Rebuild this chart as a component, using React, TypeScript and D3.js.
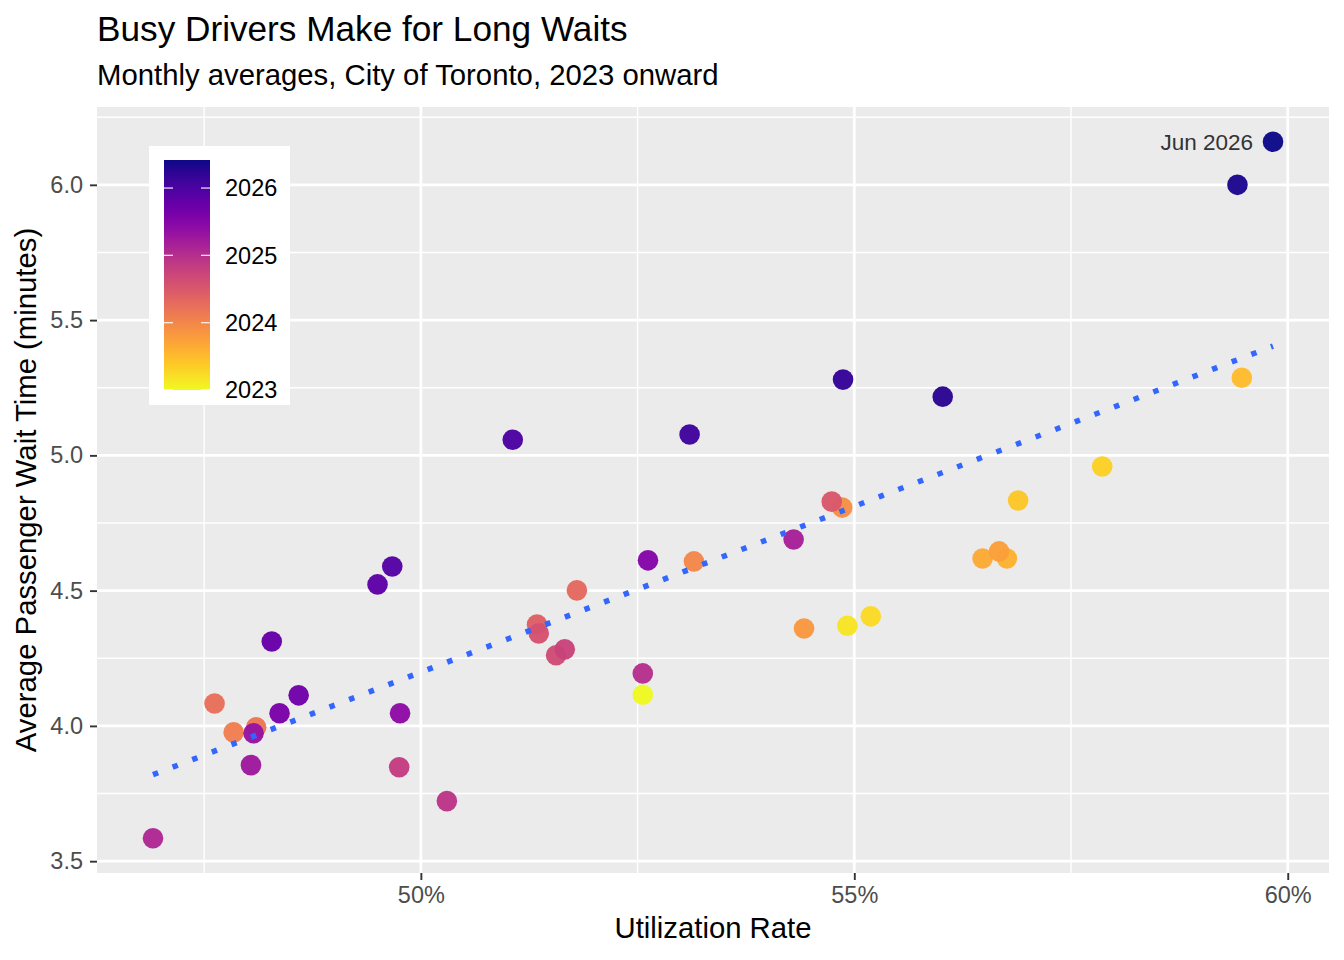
import { useEffect, useRef } from "react";
import * as d3 from "d3";

// ─── Data (monthly averages) ─────────────────────────────────────────────────

const MONTHS = [
  "2023-01", "2023-03", "2023-04", "2023-05", "2023-06", "2023-07",
  "2023-08", "2023-09", "2023-10", "2023-11", "2023-12",
  "2024-01", "2024-02", "2024-03", "2024-04", "2024-05", "2024-06",
  "2024-07", "2024-08", "2024-09", "2024-10", "2024-11", "2024-12",
  "2025-01", "2025-02", "2025-03", "2025-04", "2025-05", "2025-06",
  "2025-07", "2025-08", "2025-09", "2025-10", "2025-11", "2025-12",
  "2026-01", "2026-02", "2026-03", "2026-04", "2026-05", "2026-06",
];

// utilization rate, percent
const UTIL = [
  52.56, 54.92, 55.19, 57.86, 56.89, 59.47,
  56.76, 56.48, 56.67, 54.42, 54.86,
  53.15, 47.84, 48.10, 47.62, 51.80, 51.34,
  54.74, 51.36, 51.56, 51.66, 49.75, 50.30,
  52.56, 46.91, 54.30, 48.04, 48.07, 49.76,
  52.62, 48.37, 48.59, 48.28, 49.50, 49.67,
  51.06, 53.10, 54.87, 56.02, 59.42, 59.83,
];

// average passenger wait time, minutes
const WAIT = [
  4.115, 4.37, 4.405, 4.959, 4.833, 5.287,
  4.619, 4.619, 4.645, 4.36, 4.807,
  4.608, 3.976, 3.995, 4.083, 4.501, 4.375,
  4.829, 4.342, 4.261, 4.283, 3.847, 3.722,
  4.194, 3.585, 4.689, 3.855, 3.973, 4.047,
  4.612, 4.047, 4.113, 4.312, 4.523, 4.589,
  5.058, 5.077, 5.28, 5.217, 6.0, 6.159,
];

const Y_TICKS = [3.5, 4.0, 4.5, 5.0, 5.5, 6.0];
const X_TICKS = [50, 55, 60];
const LEGEND_YEARS = [2023, 2024, 2025, 2026];

const TITLE = "Busy Drivers Make for Long Waits";
const SUBTITLE = "Monthly averages, City of Toronto, 2023 onward";
const X_TITLE = "Utilization Rate";
const Y_TITLE = "Average Passenger Wait Time (minutes)";
const LABEL = "Jun 2026";

// ─── Helpers ──────────────────────────────────────────────────────────────────

const FONT = "'Liberation Sans', Arial, Helvetica, sans-serif";
const PANEL_BG = "#EBEBEB";
const AXIS_TEXT = "#4D4D4D";

// months since Jan 2023
const monthIndex = (s: string) => {
  const [y, m] = s.split("-").map(Number);
  return (y - 2023) * 12 + (m - 1);
};

const data = MONTHS.map((m, i) => ({
  month: m,
  t: monthIndex(m),
  x: UTIL[i],
  y: WAIT[i],
}));

// ggplot-style 5% expansion
function expand([a, b]: [number, number]): [number, number] {
  const pad = (b - a) * 0.05;
  return [a - pad, b + pad];
}

export default function App() {
  const svgRef = useRef<SVGSVGElement>(null);

  useEffect(() => {
    document.body.style.margin = "0";
    if (!svgRef.current) return;

    const W = 1344,
      H = 960;
    const m = { top: 107, right: 15, bottom: 87, left: 97 };

    const svg = d3.select(svgRef.current);
    svg.selectAll("*").remove();

    const xS = d3
      .scaleLinear()
      .domain(expand(d3.extent(data, (d) => d.x) as [number, number]))
      .range([m.left, W - m.right]);
    const yS = d3
      .scaleLinear()
      .domain(expand(d3.extent(data, (d) => d.y) as [number, number]))
      .range([H - m.bottom, m.top]);

    const tMax = d3.max(data, (d) => d.t)!;
    const color = (t: number) => d3.interpolatePlasma(1 - t / tMax);

    // Panel
    svg
      .append("rect")
      .attr("x", m.left)
      .attr("y", m.top)
      .attr("width", W - m.left - m.right)
      .attr("height", H - m.top - m.bottom)
      .attr("fill", PANEL_BG);

    const [x0, x1] = xS.domain();
    const [y0, y1] = yS.domain();
    const xMinor = d3.range(47.5, x1, 5).filter((v) => v > x0);
    const yMinor = d3.range(3.25, y1, 0.5).filter((v) => v > y0);

    const grid = svg.append("g").attr("stroke", "white");
    xMinor.forEach((v) =>
      grid
        .append("line")
        .attr("x1", xS(v))
        .attr("x2", xS(v))
        .attr("y1", m.top)
        .attr("y2", H - m.bottom)
        .attr("stroke-width", 1.4),
    );
    yMinor.forEach((v) =>
      grid
        .append("line")
        .attr("x1", m.left)
        .attr("x2", W - m.right)
        .attr("y1", yS(v))
        .attr("y2", yS(v))
        .attr("stroke-width", 1.4),
    );
    X_TICKS.forEach((v) =>
      grid
        .append("line")
        .attr("x1", xS(v))
        .attr("x2", xS(v))
        .attr("y1", m.top)
        .attr("y2", H - m.bottom)
        .attr("stroke-width", 2.8),
    );
    Y_TICKS.forEach((v) =>
      grid
        .append("line")
        .attr("x1", m.left)
        .attr("x2", W - m.right)
        .attr("y1", yS(v))
        .attr("y2", yS(v))
        .attr("stroke-width", 2.8),
    );

    // Axes
    svg
      .append("g")
      .attr("transform", `translate(0,${H - m.bottom})`)
      .call(
        d3
          .axisBottom(xS)
          .tickValues(X_TICKS)
          .tickSize(7)
          .tickPadding(6)
          .tickFormat((d) => `${d}%`),
      )
      .call((ax) => {
        ax.select(".domain").remove();
        ax.selectAll(".tick line").attr("stroke", "#333").attr("stroke-width", 1.9);
        ax.selectAll(".tick text")
          .attr("fill", AXIS_TEXT)
          .attr("font-size", 23.5)
          .attr("font-family", FONT);
      });

    svg
      .append("g")
      .attr("transform", `translate(${m.left},0)`)
      .call(
        d3
          .axisLeft(yS)
          .tickValues(Y_TICKS)
          .tickSize(7)
          .tickPadding(7)
          .tickFormat(d3.format(".1f")),
      )
      .call((ax) => {
        ax.select(".domain").remove();
        ax.selectAll(".tick line").attr("stroke", "#333").attr("stroke-width", 1.9);
        ax.selectAll(".tick text")
          .attr("fill", AXIS_TEXT)
          .attr("font-size", 23.5)
          .attr("font-family", FONT);
      });

    // Points
    svg
      .append("g")
      .selectAll("circle")
      .data(data)
      .join("circle")
      .attr("cx", (d) => xS(d.x))
      .attr("cy", (d) => yS(d.y))
      .attr("r", 10.3)
      .attr("fill", (d) => color(d.t))
      .attr("fill-opacity", 0.97);

    // Linear fit (least squares)
    const mx = d3.mean(data, (d) => d.x)!;
    const my = d3.mean(data, (d) => d.y)!;
    const slope =
      d3.sum(data, (d) => (d.x - mx) * (d.y - my)) /
      d3.sum(data, (d) => (d.x - mx) ** 2);
    const icpt = my - slope * mx;
    const [fx0, fx1] = d3.extent(data, (d) => d.x) as [number, number];
    const fit = d3.range(0, 81).map((i) => fx0 + ((fx1 - fx0) * i) / 80);

    svg
      .append("path")
      .datum(fit)
      .attr(
        "d",
        d3
          .line<number>()
          .x((v) => xS(v))
          .y((v) => yS(icpt + slope * v)),
      )
      .attr("fill", "none")
      .attr("stroke", "#3366FF")
      .attr("stroke-width", 5.5)
      .attr("stroke-dasharray", "5.5 15.5");

    // Label for last point
    const last = data[data.length - 1];
    svg
      .append("text")
      .attr("x", xS(last.x) - 20)
      .attr("y", yS(last.y))
      .attr("dy", "0.35em")
      .attr("text-anchor", "end")
      .attr("font-size", 22.5)
      .attr("font-family", FONT)
      .attr("fill", "#333333")
      .text(LABEL);

    // Legend (colorbar)
    const lg = { x: 149, y: 146, w: 141, h: 259 };
    const bar = { x: 164, y: 160, w: 46, h: 230 };
    svg
      .append("rect")
      .attr("x", lg.x)
      .attr("y", lg.y)
      .attr("width", lg.w)
      .attr("height", lg.h)
      .attr("fill", "white");

    const grad = svg
      .append("defs")
      .append("linearGradient")
      .attr("id", "plasma-bar")
      .attr("x1", 0)
      .attr("x2", 0)
      .attr("y1", 1)
      .attr("y2", 0);
    d3.range(0, 21).forEach((i) => {
      const f = i / 20;
      grad
        .append("stop")
        .attr("offset", f)
        .attr("stop-color", color(f * tMax));
    });
    svg
      .append("rect")
      .attr("x", bar.x)
      .attr("y", bar.y)
      .attr("width", bar.w)
      .attr("height", bar.h)
      .attr("fill", "url(#plasma-bar)");

    const lS = d3.scaleLinear().domain([0, tMax]).range([bar.y + bar.h, bar.y]);
    LEGEND_YEARS.forEach((yr) => {
      const yy = lS((yr - 2023) * 12);
      [bar.x, bar.x + bar.w - 9].forEach((lx) =>
        svg
          .append("line")
          .attr("x1", lx)
          .attr("x2", lx + 9)
          .attr("y1", yy)
          .attr("y2", yy)
          .attr("stroke", "white")
          .attr("stroke-opacity", 0.85)
          .attr("stroke-width", 1.3),
      );
      svg
        .append("text")
        .attr("x", bar.x + bar.w + 15)
        .attr("y", yy)
        .attr("dy", "0.35em")
        .attr("font-size", 23.5)
        .attr("font-family", FONT)
        .attr("fill", "black")
        .text(String(yr));
    });

    // Titles
    svg
      .append("text")
      .attr("x", m.left)
      .attr("y", 40.5)
      .attr("font-size", 35.2)
      .attr("font-family", FONT)
      .attr("fill", "black")
      .text(TITLE);
    svg
      .append("text")
      .attr("x", m.left)
      .attr("y", 84.5)
      .attr("font-size", 29.3)
      .attr("font-family", FONT)
      .attr("fill", "black")
      .text(SUBTITLE);

    svg
      .append("text")
      .attr("x", (m.left + W - m.right) / 2)
      .attr("y", 938)
      .attr("text-anchor", "middle")
      .attr("font-size", 29.3)
      .attr("font-family", FONT)
      .attr("fill", "black")
      .text(X_TITLE);
    svg
      .append("text")
      .attr("transform", `translate(36,${(m.top + H - m.bottom) / 2}) rotate(-90)`)
      .attr("text-anchor", "middle")
      .attr("font-size", 29.3)
      .attr("font-family", FONT)
      .attr("fill", "black")
      .text(Y_TITLE);
  }, []);

  return (
    <svg
      ref={svgRef}
      width={1344}
      height={960}
      viewBox="0 0 1344 960"
      style={{ display: "block", background: "white" }}
    />
  );
}
